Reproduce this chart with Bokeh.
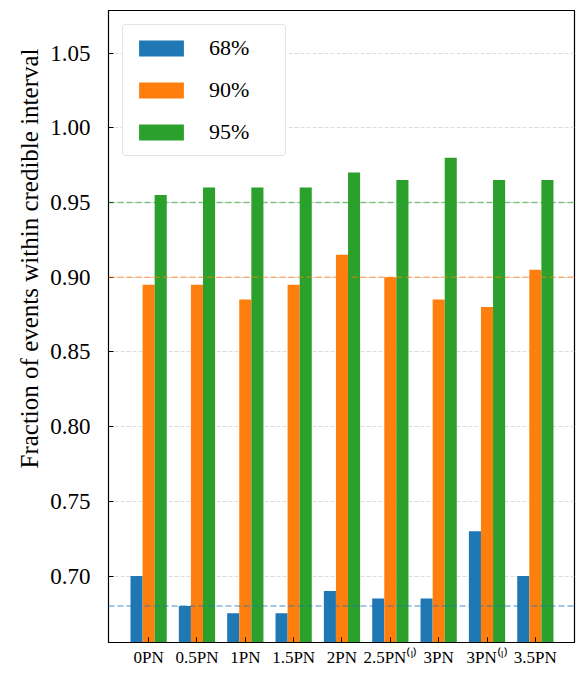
from bokeh.embed import file_html
from bokeh.resources import INLINE
from bokeh.models import (ColumnDataSource, FixedTicker, PrintfTickFormatter,
                          Range1d, Span, Legend, LegendItem, Title)
from bokeh.plotting import figure

orders = ["0PN", "0.5PN", "1PN", "1.5PN", "2PN", "2.5PN⁽ˡ⁾", "3PN", "3PN⁽ˡ⁾", "3.5PN"]
frac_68 = [0.700, 0.680, 0.675, 0.675, 0.690, 0.685, 0.685, 0.730, 0.700]
frac_90 = [0.895, 0.895, 0.885, 0.895, 0.915, 0.900, 0.885, 0.880, 0.905]
frac_95 = [0.955, 0.960, 0.960, 0.960, 0.970, 0.965, 0.980, 0.965, 0.965]
levels = [0.68, 0.90, 0.95]
level_labels = ["68%", "90%", "95%"]
y_ticks = [0.70, 0.75, 0.80, 0.85, 0.90, 0.95, 1.00, 1.05]

colors = ["#1f77b4", "#ff7f0e", "#2ca02c"]
serif = "Liberation Serif"
bar_w = 0.25

idx = list(range(len(orders)))

p = figure(width=584, height=680, output_backend="svg", toolbar_location=None,
           x_range=Range1d(-0.83, 8.81), y_range=Range1d(0.6555, 1.0785),
           min_border_left=108, min_border_top=10, min_border_right=10,
           min_border_bottom=38)

renderers = []
for k, (vals, col) in enumerate(zip([frac_68, frac_90, frac_95], colors)):
    src = ColumnDataSource(dict(x=[i + (k - 1) * bar_w for i in idx], top=vals))
    r = p.vbar(x="x", top="top", bottom=0, width=bar_w, source=src,
               fill_color=col, line_color=None)
    renderers.append(r)

for lev, col in zip(levels, colors):
    p.add_layout(Span(location=lev, dimension="width", line_color=col,
                      line_alpha=0.55, line_width=1.5, line_dash="6 3"))

legend = Legend(items=[LegendItem(label=lab, renderers=[r])
                       for lab, r in zip(level_labels, renderers)],
                location="top_left", margin=14, padding=10,
                glyph_width=56, glyph_height=20, label_standoff=20,
                label_width=66, spacing=16,
                label_text_font=serif, label_text_font_size="22px",
                label_text_color="black",
                border_line_color="#cccccc", border_line_width=1.5,
                border_radius=4, background_fill_alpha=1)
p.add_layout(legend)

# y label sits above the frame centre in the original, so use a side title
p.add_layout(Title(text="Fraction of events within credible interval",
                   align="right", offset=38, standoff=9,
                   text_font=serif, text_font_size="25px",
                   text_font_style="normal", text_color="black"), "left")

p.xaxis.ticker = FixedTicker(ticks=idx)
p.xaxis.major_label_overrides = {i: lab for i, lab in zip(idx, orders)}
p.xaxis.major_label_text_font = serif
p.xaxis.major_label_text_font_size = "17px"
p.xaxis.major_label_standoff = 5
p.xaxis.major_tick_in = 5
p.xaxis.major_tick_out = 0
p.xaxis.minor_tick_line_color = None

p.yaxis.ticker = FixedTicker(ticks=y_ticks)
p.yaxis.formatter = PrintfTickFormatter(format="%.2f")
p.yaxis.major_label_text_font = serif
p.yaxis.major_label_text_font_size = "23px"
p.yaxis.major_label_standoff = 18
p.yaxis.major_tick_in = 5
p.yaxis.major_tick_out = 0
p.yaxis.minor_tick_line_color = None

for ax in [p.xaxis, p.yaxis]:
    ax.axis_line_color = "black"
    ax.major_tick_line_color = "black"
    ax.major_label_text_color = "black"

p.xgrid.grid_line_color = None
p.ygrid.grid_line_color = "#dddddd"
p.ygrid.grid_line_dash = "4 2"
p.ygrid.grid_line_width = 1

p.outline_line_color = "black"
p.outline_line_alpha = 1
p.outline_line_width = 1.2
p.background_fill_color = "white"

open("out.html", "w").write(file_html(p, INLINE))
